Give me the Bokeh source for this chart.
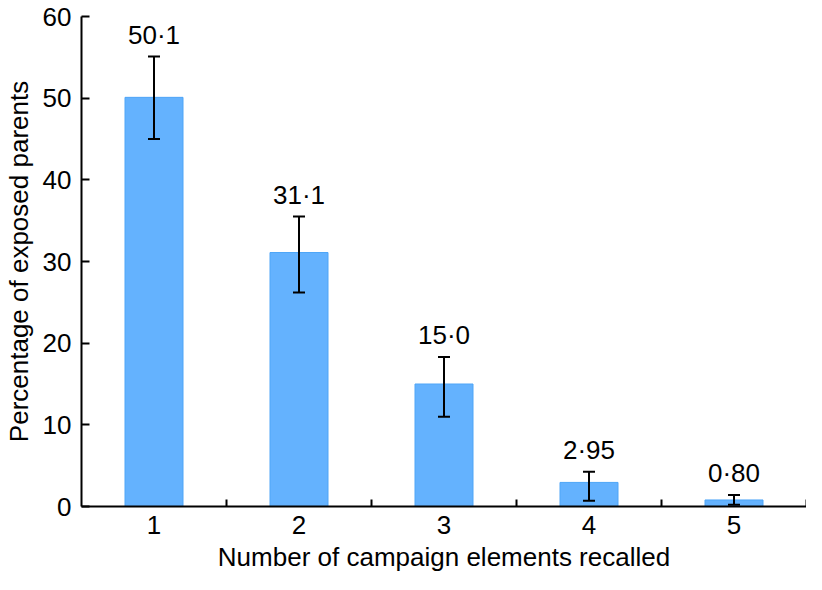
from bokeh.plotting import figure
from bokeh.models import ColumnDataSource, Whisker, TeeHead, FixedTicker, Range1d
from bokeh.embed import file_html
from bokeh.resources import INLINE

categories = [1, 2, 3, 4, 5]
tick_labels = ["1", "2", "3", "4", "5"]
values = [50.1, 31.1, 15.0, 2.95, 0.80]
err_lower = [45.0, 26.2, 11.0, 0.7, 0.2]
err_upper = [55.1, 35.5, 18.3, 4.25, 1.4]
value_labels = ["50·1", "31·1", "15·0", "2·95", "0·80"]

FONT = "Liberation Sans"
FS = "26px"

src = ColumnDataSource(dict(x=categories, top=values, lower=err_lower,
                            upper=err_upper, lab=value_labels))

p = figure(width=806, height=574, output_backend="svg", toolbar_location=None,
           x_range=Range1d(0.5, 5.5), y_range=Range1d(0, 60),
           min_border_left=74, min_border_right=0, min_border_top=16,
           min_border_bottom=60)
p.outline_line_color = None
p.grid.visible = False
p.background_fill_color = "white"

p.vbar(x="x", top="top", width=0.4, bottom=0, source=src,
       fill_color="#64b2fe", line_color="#4ea5f7", line_width=1)

w = Whisker(base="x", lower="lower", upper="upper", source=src,
            line_color="black", line_width=2, level="overlay",
            upper_head=TeeHead(size=12, line_color="black", line_width=2),
            lower_head=TeeHead(size=12, line_color="black", line_width=2))
p.add_layout(w)

p.text(x="x", y="upper", text="lab", source=src, text_align="center",
       text_baseline="bottom", y_offset=-7, text_font_size=FS,
       text_font={"value": FONT}, text_color="black")

# x axis
p.xaxis.ticker = FixedTicker(ticks=categories, minor_ticks=[1.5, 2.5, 3.5, 4.5, 5.5])
p.xaxis.major_label_overrides = {c: t for c, t in zip(categories, tick_labels)}
p.xaxis.major_tick_in = 0
p.xaxis.major_tick_out = 0
p.xaxis.minor_tick_in = 7
p.xaxis.minor_tick_out = 0
p.xaxis.minor_tick_line_width = 2
p.xaxis.axis_line_width = 2
p.xaxis.major_label_standoff = 9
p.xaxis.axis_label = "Number of campaign elements recalled"
p.xaxis.axis_label_standoff = 5

# y axis
p.yaxis.ticker = FixedTicker(ticks=[0, 10, 20, 30, 40, 50, 60], minor_ticks=[])
p.yaxis.major_tick_in = 8
p.yaxis.major_tick_out = 0
p.yaxis.major_tick_line_width = 2
p.yaxis.axis_line_width = 2
p.yaxis.major_label_standoff = 10
p.yaxis.axis_label = "Percentage of exposed parents"
p.yaxis.axis_label_standoff = 6

for ax in (p.xaxis, p.yaxis):
    ax.major_label_text_font = FONT
    ax.major_label_text_font_size = FS
    ax.major_label_text_color = "black"
    ax.axis_label_text_font = FONT
    ax.axis_label_text_font_size = FS
    ax.axis_label_text_font_style = "normal"
    ax.axis_label_text_color = "black"
    ax.axis_line_color = "black"
    ax.major_tick_line_color = "black"
    ax.minor_tick_line_color = "black"

open("out.html", "w").write(file_html(p, INLINE))
